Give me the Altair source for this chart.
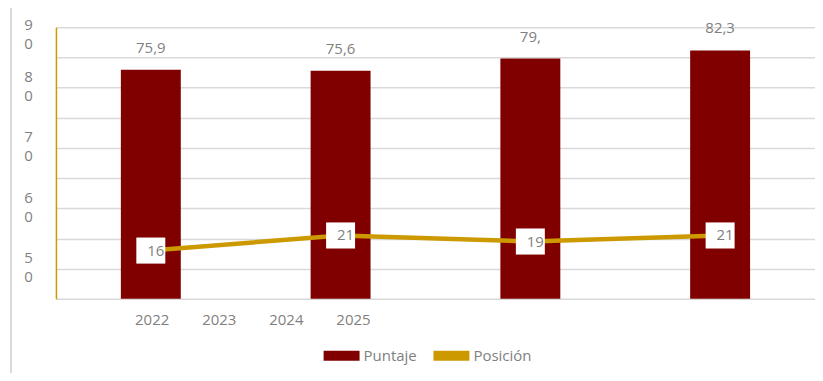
import altair as alt
import pandas as pd

# --- data ---
anios = ["2022", "2023", "2024", "2025"]
puntaje = [75.9, 75.6, 79.6, 82.3]
puntaje_etiquetas = ["75,9", "75,6", "79,", "82,3"]
posicion = [16, 21, 19, 21]
posicion_etiquetas = ["16", "21", "19", "21"]
anios_eje = [2022, 2023, 2024, 2025]
ticks_y = [0, 10, 20, 30, 40, 50, 60, 70, 80, 90]

FONT = "Open Sans"
GRAY = "#7F7F7F"
MAROON = "#800000"
GOLD = "#CC9900"

df = pd.DataFrame({
    "anio": anios,
    "puntaje": puntaje,
    "p_lab": puntaje_etiquetas,
    "posicion": posicion,
    "pos_lab": posicion_etiquetas,
    "s_bar": ["Puntaje"] * 4,
    "s_line": ["Posición"] * 4,
})
df_years = pd.DataFrame({"year": anios_eje})

xband = alt.X("anio:N", axis=None,
              scale=alt.Scale(paddingInner=0, paddingOuter=0), sort=anios)
yscale = alt.Scale(domain=[0, 90], nice=False, zero=True)

color_scale = alt.Scale(domain=["Puntaje", "Posición"], range=[MAROON, GOLD])

label_expr = ("datum.value == 90 ? ['9','0'] : datum.value == 70 ? ['8','0'] : "
              "datum.value == 50 ? ['7','0'] : datum.value == 30 ? ['6','0'] : "
              "datum.value == 10 ? ['5','0'] : ''")

yaxis = alt.Axis(values=ticks_y, labelExpr=label_expr,
                 labelAlign="center", labelPadding=28, labelLineHeight=19,
                 labelOffset={"condition": {"test": "datum.value == 90", "value": -3},
                              "value": -11},
                 labelFontSize=15, labelFont=FONT, labelColor=GRAY,
                 labelOverlap=False, labelFlush=False, labelBound=False,
                 ticks=False, domainColor=GOLD, domainWidth=1.5,
                 gridColor="#D9D9D9", gridWidth=1.5, title=None,
                 minExtent=48, maxExtent=48)

legend = alt.Legend(orient="none", legendX=268, legendY=311, direction="horizontal",
                    title=None, symbolType="M-1,-0.28H1V0.28H-1Z", symbolSize=1296,
                    symbolStrokeWidth=0, labelFontSize=15, labelFont=FONT,
                    labelColor=GRAY, labelOffset=4, columnPadding=16)


def ycol(field):
    return alt.Y(field, scale=yscale, axis=yaxis, title=None)


bars = alt.Chart(df).mark_bar(size=60).encode(
    x=xband,
    y=ycol("puntaje:Q"),
    color=alt.Color("s_bar:N", scale=color_scale, legend=legend),
)

bar_text = alt.Chart(df).mark_text(baseline="bottom", dy=-14, fontSize=15,
                                   font=FONT, color=GRAY).encode(
    x=xband, y=ycol("puntaje:Q"), text="p_lab:N")

line = alt.Chart(df).mark_line(strokeWidth=4.5).encode(
    x=xband,
    y=ycol("posicion:Q"),
    color=alt.Color("s_line:N", scale=color_scale, legend=legend),
)

boxes = alt.Chart(df).mark_point(shape="M-1,-0.9H1V0.9H-1Z", filled=True,
                                 fill="white", opacity=1, size=841,
                                 strokeWidth=0).encode(
    x=xband, y=ycol("posicion:Q"))

pos_text = alt.Chart(df).mark_text(dx=5, baseline="middle", fontSize=15,
                                   font=FONT, color=GRAY).encode(
    x=xband, y=ycol("posicion:Q"), text="pos_lab:N")

# light frame edge on the left of the chart area (decoration)
frame = alt.Chart(df.head(1)).mark_rule(color="#D9D9D9", strokeWidth=2).encode(
    x=alt.value(-45), y=alt.value(-20), y2=alt.value(360))

inner = alt.layer(bars, line, boxes, pos_text, bar_text)

year_layer = alt.Chart(df_years).mark_point(opacity=0).encode(
    x=alt.X("year:Q", scale=alt.Scale(domain=[2020.574, 2031.884], nice=False, zero=False),
            axis=alt.Axis(orient="bottom", values=anios_eje, format="d", title=None,
                          grid=False, ticks=False, domain=False, labelPadding=14,
                          labelBaseline="top", labelFontSize=15, labelFont=FONT,
                          labelColor=GRAY, labelFlush=False, labelOverlap=False)),
)

chart = alt.layer(frame, inner, year_layer).resolve_scale(x="independent").properties(
    width=760, height=272,
    autosize=alt.AutoSizeParams(type="none"),
    padding={"left": 48, "top": 19, "right": 0, "bottom": 74},
).configure_view(stroke=None)

chart.save("out.html", embed_options={"renderer": "svg", "actions": False})
